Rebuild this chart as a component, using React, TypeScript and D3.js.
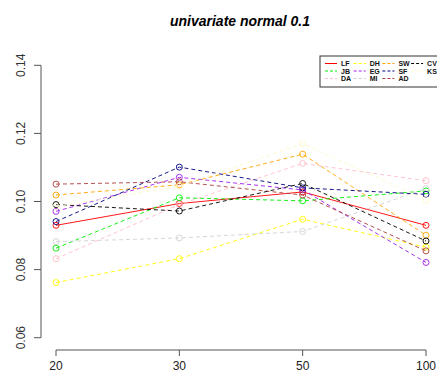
import * as d3 from 'd3';

const sizes = ['20', '30', '50', '100'];
const yTicks = [0.06, 0.08, 0.1, 0.12, 0.14];

// one array per method
const LF = [0.093, 0.0994, 0.1028, 0.093];
const JB = [0.0863, 0.1011, 0.1002, 0.1031];
const DA = [0.0832, 0.0991, 0.1112, 0.1061];
const DH = [0.0762, 0.0832, 0.0948, 0.0866];
const EG = [0.0971, 0.1071, 0.1034, 0.0821];
const MI = [0.0882, 0.0893, 0.0912, 0.1038];
const SW = [0.1019, 0.1049, 0.1139, 0.0901];
const SF = [0.0941, 0.1101, 0.104, 0.1021];
const AD = [0.1051, 0.1058, 0.1019, 0.0855];
const CV = [0.0991, 0.0972, 0.1053, 0.0884];
const KS = [0.0985, 0.1045, 0.117, 0.1005];

const series = [
  { name: 'LF', values: LF, color: '#ff0000', dash: '' },
  { name: 'JB', values: JB, color: '#00ee00', dash: '4,3' },
  { name: 'DA', values: DA, color: '#ffc0cb', dash: '4,3' },
  { name: 'DH', values: DH, color: '#ffff00', dash: '4,3' },
  { name: 'EG', values: EG, color: '#a020f0', dash: '4,3' },
  { name: 'MI', values: MI, color: '#d3d3d3', dash: '4,3' },
  { name: 'SW', values: SW, color: '#ffa500', dash: '4,3' },
  { name: 'SF', values: SF, color: '#000080', dash: '4,3' },
  { name: 'AD', values: AD, color: '#b04040', dash: '4,3' },
  { name: 'CV', values: CV, color: '#000000', dash: '4,3' },
  { name: 'KS', values: KS, color: '#fffacd', dash: '4,3' },
];

const W = 437;
const H = 381;

export default function App() {
  const x = d3.scalePoint<string>().domain(sizes).range([56, 426]);
  const y = d3.scaleLinear().domain([0.06, 0.14]).range([337.7, 65.3]);
  const line = d3.line<number>().x((_, i) => x(sizes[i])!).y(d => y(d));

  const font = '"Liberation Sans", Arial, sans-serif';
  const axisColor = '#555';

  // legend layout: R fills it column by column, 3 rows
  const legX = 320, legY = 56, rowH = 7.5, colW = 28.7;

  return (
    <svg width={W} height={H} style={{ position: 'absolute', left: 0, top: 0, background: '#fff' }} fontFamily={font}>
      <text x={240} y={26} textAnchor="middle" fontSize={14} fontWeight="bold" fontStyle="italic" fill="#000">
        univariate normal 0.1
      </text>

      {/* y axis */}
      <line x1={41} x2={41} y1={y(0.06)} y2={y(0.14)} stroke={axisColor} />
      {yTicks.map(t => (
        <g key={t}>
          <line x1={34} x2={41} y1={y(t)} y2={y(t)} stroke={axisColor} />
          <text transform={`translate(25,${y(t)}) rotate(-90)`} textAnchor="middle" fontSize={12} fill="#333">
            {d3.format('.2f')(t)}
          </text>
        </g>
      ))}

      {/* x axis */}
      <line x1={x('20')} x2={x('100')} y1={350} y2={350} stroke={axisColor} />
      {sizes.map(s => (
        <g key={s}>
          <line x1={x(s)} x2={x(s)} y1={350} y2={356} stroke={axisColor} />
          <text x={x(s)} y={370} textAnchor="middle" fontSize={12} fill="#222">{s}</text>
        </g>
      ))}

      {/* series */}
      {series.map(s => (
        <g key={s.name} opacity={0.9}>
          <path d={line(s.values)!} fill="none" stroke={s.color} strokeWidth={1} strokeDasharray={s.dash} />
          {s.values.map((v, i) => (
            <circle key={i} cx={x(sizes[i])} cy={y(v)} r={3} fill="none" stroke={s.color} strokeWidth={1} />
          ))}
        </g>
      ))}

      {/* legend */}
      <rect x={legX} y={legY} width={130} height={31} fill="#fff" stroke="#333" strokeWidth={1} />
      {series.map((s, i) => {
        const col = Math.floor(i / 3);
        const row = i % 3;
        const lx = legX + 5 + col * colW;
        const ly = legY + 7.5 + row * rowH;
        return (
          <g key={s.name}>
            <line x1={lx} x2={lx + 12} y1={ly} y2={ly} stroke={s.color} strokeDasharray={s.dash ? '3,2' : ''} />
            <text x={lx + 16} y={ly + 2.5} fontSize={7} fontWeight="bold" fill="#111">{s.name}</text>
          </g>
        );
      })}
    </svg>
  );
}
